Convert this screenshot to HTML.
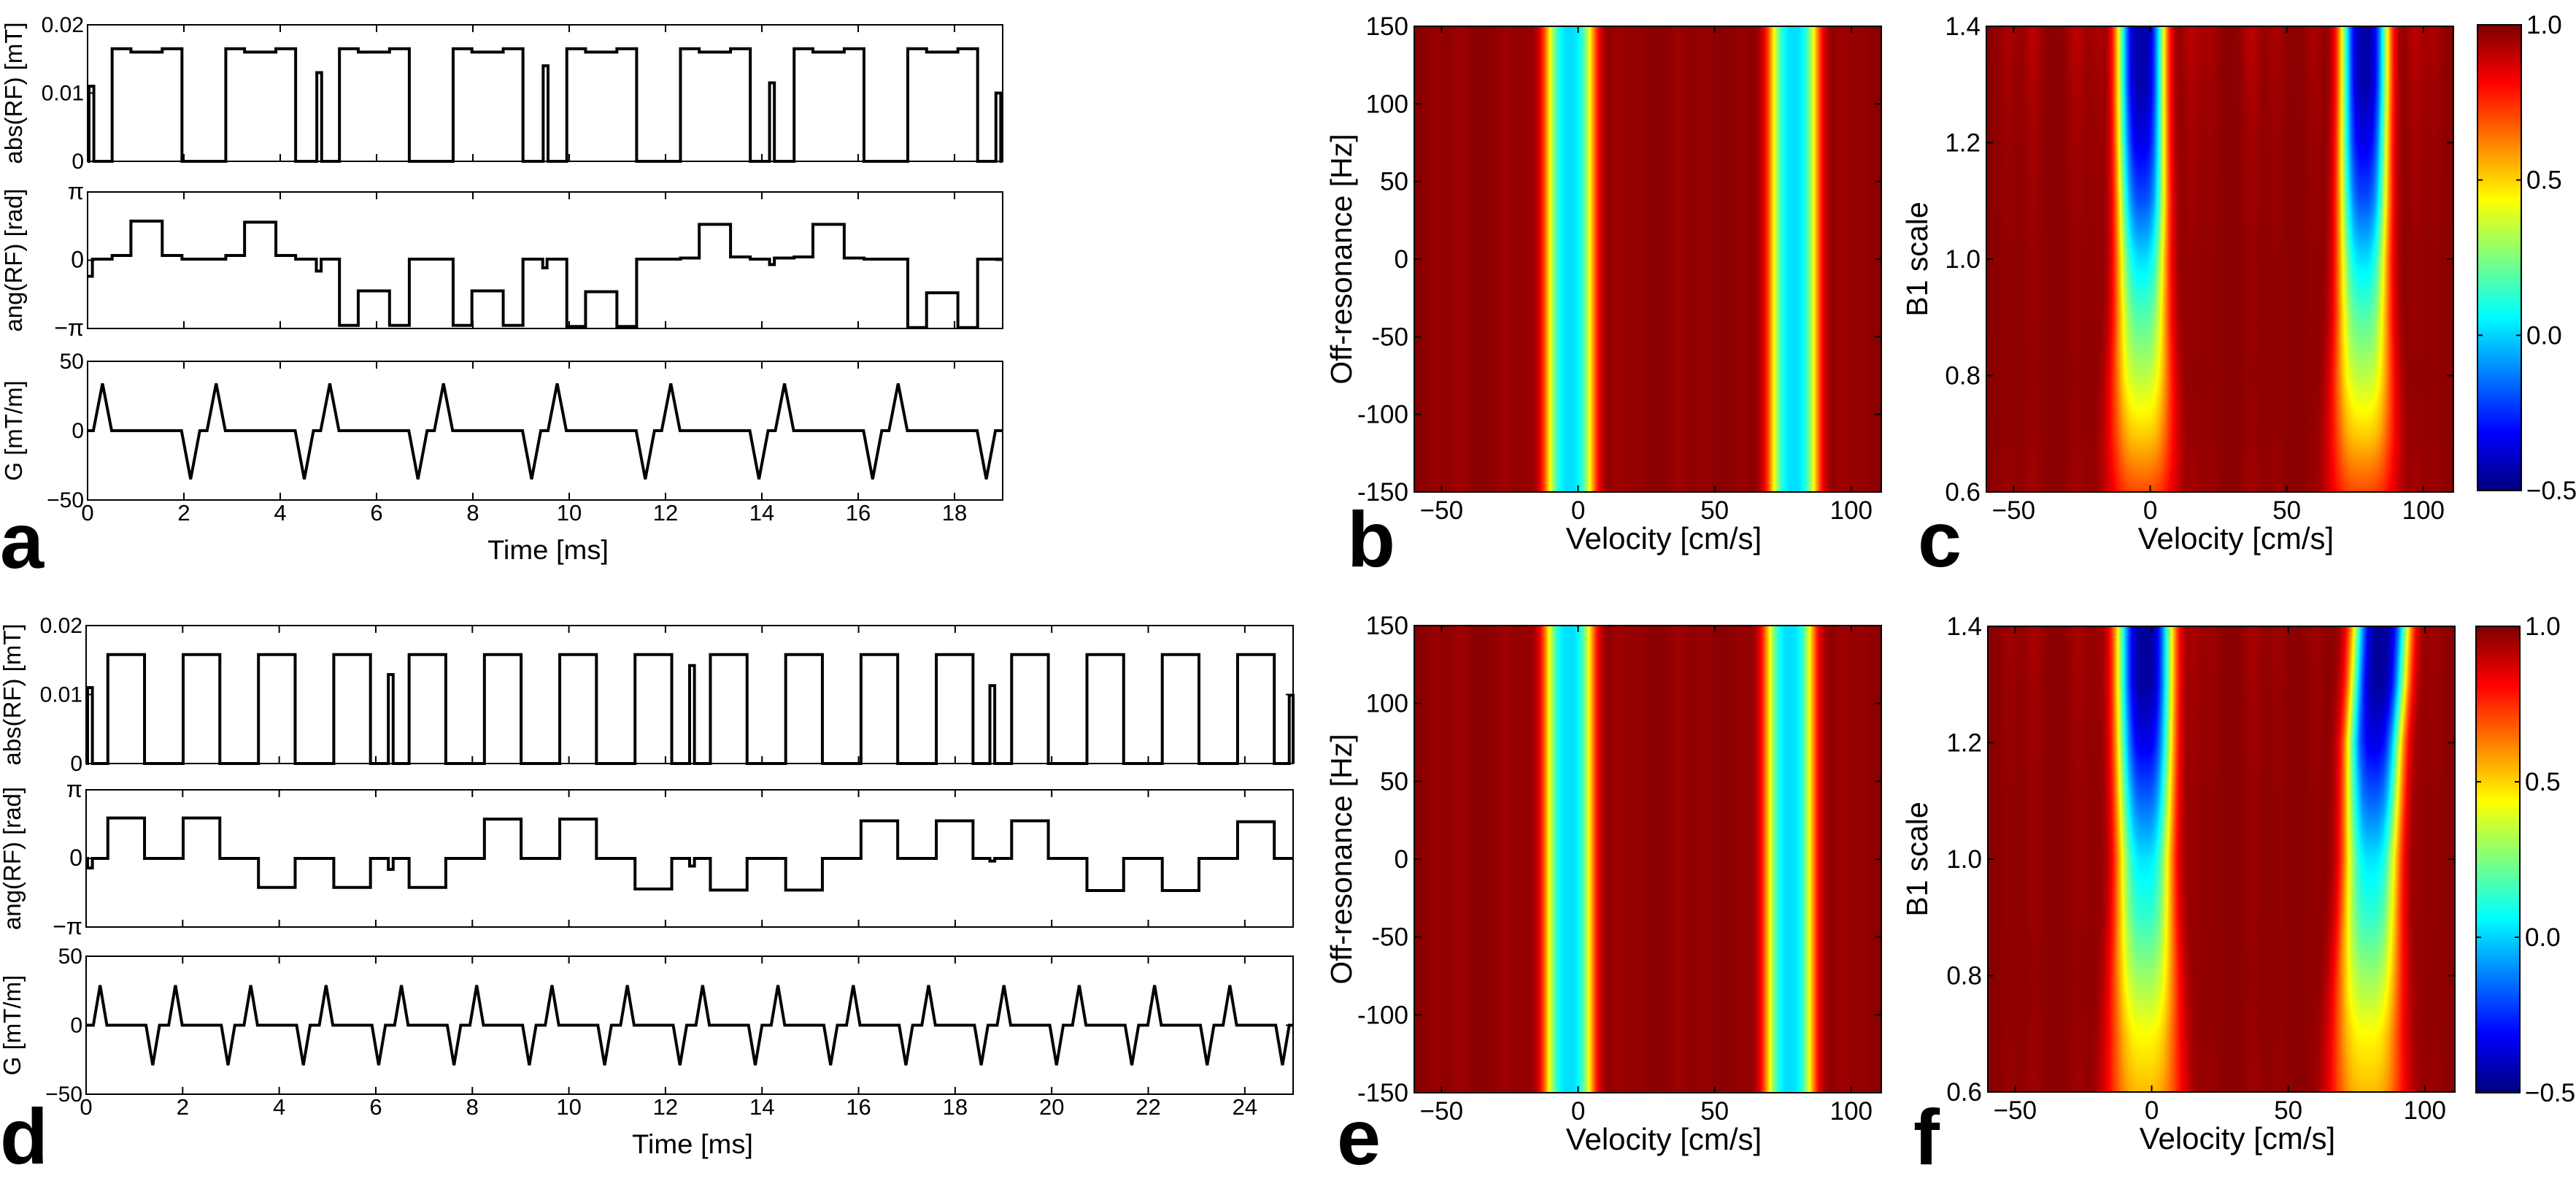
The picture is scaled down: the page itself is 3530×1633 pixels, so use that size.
<!DOCTYPE html>
<html><head><meta charset="utf-8">
<style>
html,body{margin:0;padding:0;background:#fff;}
#fig{position:relative;width:3530px;height:1633px;overflow:hidden;background:#fff;}
canvas{position:absolute;}
svg{position:absolute;left:0;top:0;}
text{font-family:"Liberation Sans",Arial,sans-serif;fill:#000;}
</style></head>
<body>
<div id="fig">
<canvas id="cvB" width="640" height="638" style="left:1938px;top:36px;width:640px;height:638px"></canvas>
<canvas id="cvC" width="640" height="638" style="left:2722px;top:36px;width:640px;height:638px"></canvas>
<canvas id="cvCB1" width="60" height="638" style="left:3395px;top:34px;width:60px;height:638px"></canvas>
<canvas id="cvE" width="640" height="640" style="left:1938px;top:857px;width:640px;height:640px"></canvas>
<canvas id="cvF" width="640" height="638" style="left:2724px;top:858px;width:640px;height:638px"></canvas>
<canvas id="cvCB2" width="60" height="639" style="left:3393px;top:858px;width:60px;height:639px"></canvas>
<svg id="svg" width="3530" height="1633" viewBox="0 0 3530 1633"></svg>
</div>
<script>
// ---------------- data ----------------
const timeTicksA = [0,2,4,6,8,10,12,14,16,18];
const timeTicksD = [0,2,4,6,8,10,12,14,16,18,20,22,24];
const absTicks = [0, 0.01, 0.02];
const absTickLabels = ["0","0.01","0.02"];
const angTicks = [-Math.PI, 0, Math.PI];
const angTickLabels = ["\u2212\u03c0","0","\u03c0"];
const gTicks = [-50, 0, 50];
const gTickLabels = ["\u221250","0","50"];

// panel a: RF magnitude pulses
const absA_pulseStart = [0.51,2.87,5.23,7.59,9.95,12.31,14.67,17.03];
const absA_pulseDur = [1.45,1.45,1.45,1.45,1.45,1.45,1.45,1.45];
const absA_edgeLevel = [0.0165,0.0165,0.0165,0.0165,0.0165,0.0165,0.0165,0.0165];
const absA_midLevel = [0.016,0.016,0.016,0.016,0.016,0.016,0.016,0.016];
const absA_spikeT = [0.03,4.76,9.46,14.16,18.86];
const absA_spikeV = [0.011,0.013,0.014,0.0115,0.010];
// panel a: RF phase (breakpoints + levels)
const phaseA_t = [0,0.1,0.51,0.9,1.55,1.96,2.87,3.26,3.91,4.32,4.75,4.85,5.23,5.62,6.27,6.68,7.59,7.98,8.63,9.04,9.45,9.54,9.95,10.34,10.99,11.4,12.31,12.7,13.35,13.76,14.16,14.26,14.67,15.06,15.71,16.12,17.03,17.42,18.07,18.48,19];
const phaseA_v = [-0.74,0.05,0.22,1.8,0.22,0.05,0.22,1.75,0.22,0.05,-0.5,0.05,-3.0,-1.41,-3.0,0.05,-3.0,-1.41,-3.0,0.05,-0.35,0.05,-3.05,-1.45,-3.05,0.05,0.1,1.65,0.15,0.05,-0.2,0.1,0.15,1.65,0.1,0.05,-3.1,-1.5,-3.1,0.05];
// panel a: gradient triangle peaks
const gA_peakT = [0.31,2.14,2.67,4.50,5.03,6.86,7.39,9.22,9.75,11.58,12.11,13.94,14.47,16.30,16.83,18.66];
const gA_peakV = [34,-35,34,-35,34,-35,34,-35,34,-35,34,-35,34,-35,34,-35];

// panel d
const absD_pulseStart = [0.45,2.01,3.57,5.13,6.69,8.25,9.81,11.37,12.93,14.49,16.05,17.61,19.17,20.73,22.29,23.85];
const absD_pulseV = [0.0158,0.0158,0.0158,0.0158,0.0158,0.0158,0.0158,0.0158,0.0158,0.0158,0.0158,0.0158,0.0158,0.0158,0.0158,0.0158];
const absD_spikeT = [0.03,6.26,12.5,18.72,24.92];
const absD_spikeV = [0.011,0.0129,0.0142,0.0113,0.0099];
const phaseD_level = [1.85,1.85,-1.33,-1.33,-1.33,1.8,1.8,-1.4,-1.45,-1.45,1.72,1.72,1.72,-1.47,-1.47,1.68];
const phaseD_dipV = [-0.44,-0.5,-0.35,-0.12,0];
const gD_posT = [0.29,1.85,3.41,4.97,6.53,8.09,9.65,11.21,12.77,14.33,15.89,17.45,19.01,20.57,22.13,23.69];
const gD_negT = [1.38,2.94,4.50,6.06,7.62,9.18,10.74,12.30,13.86,15.42,16.98,18.54,20.10,21.66,23.22,24.78];
const gD_posV = [29,29,29,29,29,29,29,29,29,29,29,29,29,29,29,29];
const gD_negV = [-29,-29,-29,-29,-29,-29,-29,-29,-29,-29,-29,-29,-29,-29,-29,-29];

// heatmaps
const velTicks = [-50,0,50,100];
const offresTicks = [-150,-100,-50,0,50,100,150];
const b1Ticks = [0.6,0.8,1.0,1.2,1.4];
const b1TickLabels = ["0.6","0.8","1.0","1.2","1.4"];
const cbTicks = [-0.5,0,0.5,1.0];
const cbTickLabels = ["\u22120.5","0.0","0.5","1.0"];
const bandCentersB = [-3,79];
const bandMinB = [0.03,0.03];
const bandWidthB = [8.8,8.8];
const bandCentersE = [-3.3,77.5];
const bandMinE = [0.03,0.03];
const bandWidthE = [8.8,8.8];
const rippleCenters = [-52,-43,-27,-19,15,22,37,46,60,97,104];
const rippleDepth = [0.02,0.03,0.03,0.02,0.03,0.02,0.03,0.02,0.02,0.03,0.02];
const b1Rows = [0.6,0.7,0.8,0.9,1.0,1.1,1.2,1.3,1.4];
const bandMinC = [0.72,0.52,0.35,0.2,0.03,-0.18,-0.33,-0.42,-0.43];
const bandWidthC = [12.5,11.5,10.5,9.5,9,8.8,8.6,8.5,8.5];
const bandCenterC1 = [-3,-3,-3,-3,-3,-3,-3.2,-3.3,-3.3];
const bandCenterC2 = [77.7,78,78,78,78,78.2,78.3,78.5,78.5];
const rippleAmpC = [0.05,0.03,0.02,0.03,0.03,0.04,0.05,0.07,0.1];
const bandMinF = [0.55,0.45,0.3,0.15,0.04,-0.15,-0.33,-0.44,-0.45];
const bandWidthF = [13.5,12.5,11.5,10.5,10,10,10,10,10];
const bandCenterF1 = [-2.5,-2.5,-2.5,-2.5,-2.5,-2.5,-2.5,-2.5,-2.5];
const bandCenterF2 = [79,79,79.5,80,80.5,81,81.5,83,84];
const rippleAmpF = [0.04,0.03,0.02,0.03,0.03,0.03,0.04,0.05,0.06];

// ---------------- helpers ----------------
const NS = "http://www.w3.org/2000/svg";
const svg = document.getElementById("svg");
function mk(tag, parent){ const e=document.createElementNS(NS,tag); (parent||svg).appendChild(e); return e; }
function txt(parent, x, y, s, size, anchor, extra){
  const t = mk("text", parent);
  t.setAttribute("x", x); t.setAttribute("y", y);
  t.setAttribute("font-size", size);
  t.setAttribute("text-anchor", anchor||"middle");
  if (extra) for (const k in extra) t.setAttribute(k, extra[k]);
  t.textContent = s;
  return t;
}
function lin(d0,d1,r0,r1){ return v => r0 + (v-d0)/(d1-d0)*(r1-r0); }

function axesBox(g, x0,y0,x1,y1, xs, xticks, ys, yticks, tl){
  const r = mk("rect", g);
  r.setAttribute("x",x0); r.setAttribute("y",y0); r.setAttribute("width",x1-x0); r.setAttribute("height",y1-y0);
  r.setAttribute("fill","none"); r.setAttribute("stroke","#000"); r.setAttribute("stroke-width","2");
  
  
  let d="";
  xticks.forEach(v=>{ const x=xs(v); d+=`M${x} ${y1}V${y1-tl}M${x} ${y0}V${y0+tl}`; });
  yticks.forEach(v=>{ const y=ys(v); d+=`M${x0} ${y}H${x0+tl}M${x1} ${y}H${x1-tl}`; });
  const p = mk("path", g); p.setAttribute("d", d); p.setAttribute("stroke","#000"); p.setAttribute("stroke-width","2"); p.setAttribute("fill","none");
  
  
}

function stepPath(segs, tmax, xs, ys){
  segs.sort((a,b)=>a[0]-b[0]);
  let d = `M${xs(0)} ${ys(0)}`; let t=0;
  segs.forEach(s=>{
    if (s[0]>t+1e-6){ d+=`V${ys(0)}H${xs(s[0])}`; }
    d+=`V${ys(s[2])}H${xs(s[1])}`;
    t=s[1];
  });
  d+=`V${ys(0)}`;
  if (t<tmax) d+=`H${xs(tmax)}`;
  return d;
}

function drawWave(name, x0, x1, tmax, rows, timeTicks, absSegs, phaseT, phaseV, gT, gV, gHalf, labelX){
  const g = mk("g"); 
  
  const xs = lin(0,tmax,x0,x1);
  const r0 = rows[0], r1=rows[1], r2=rows[2];
  const ysA = lin(0,0.02,r0[1],r0[0]);
  const ysP = lin(-Math.PI,Math.PI,r1[1],r1[0]);
  const ysG = lin(-50,50,r2[1],r2[0]);
  let p = mk("path", g);
  p.setAttribute("d", stepPath(absSegs, tmax, xs, ysA));
  p.setAttribute("fill","none"); p.setAttribute("stroke","#000"); p.setAttribute("stroke-width","4"); p.setAttribute("stroke-linejoin","miter");
  
  
  let d = `M${xs(phaseT[0])} ${ysP(phaseV[0])}`;
  for (let i=0;i<phaseV.length;i++){
    if (i>0) d+=`V${ysP(phaseV[i])}`;
    d+=`H${xs(phaseT[i+1])}`;
  }
  p = mk("path", g);
  p.setAttribute("d", d);
  p.setAttribute("fill","none"); p.setAttribute("stroke","#000"); p.setAttribute("stroke-width","4");
  
  
  d = `M${xs(0)} ${ysG(0)}`;
  gT.forEach((t,i)=>{
    d+=`L${xs(Math.max(0,t-gHalf))} ${ysG(0)}L${xs(t)} ${ysG(gV[i])}L${xs(Math.min(tmax,t+gHalf))} ${ysG(t+gHalf>tmax? gV[i]*(t+gHalf-tmax)/gHalf:0)}`;
  });
  d+=`L${xs(tmax)} ${ysG(0)}`;
  p = mk("path", g);
  p.setAttribute("d", d);
  p.setAttribute("fill","none"); p.setAttribute("stroke","#000"); p.setAttribute("stroke-width","4"); p.setAttribute("stroke-linejoin","miter");
  
  

  axesBox(g, x0,r0[0],x1,r0[1], xs, timeTicks, ysA, absTicks, 10);
  axesBox(g, x0,r1[0],x1,r1[1], xs, timeTicks, ysP, angTicks, 10);
  axesBox(g, x0,r2[0],x1,r2[1], xs, timeTicks, ysG, gTicks, 10);

  absTicks.forEach((v,i)=>{ const t=txt(g, x0-5, ysA(v)+10, absTickLabels[i], 30, "end");
    
     });
  angTicks.forEach((v,i)=>{ const t=txt(g, x0-5, ysP(v)+10, angTickLabels[i], 32, "end", i===1?{}:{"font-family":"Liberation Serif, serif"});
    
     });
  gTicks.forEach((v,i)=>{ const t=txt(g, x0-5, ysG(v)+10, gTickLabels[i], 30, "end");
    
     });
  timeTicks.forEach(v=>{ const t=txt(g, xs(v), r2[1]+28, String(v), 31, "middle");
    
     });
  const titles = ["abs(RF) [mT]","ang(RF) [rad]","G [mT/m]"];
  rows.forEach((r,i)=>{
    const cy=(r[0]+r[1])/2;
    const t=txt(g, 0, 0, titles[i], 33, "middle", {transform:`translate(${labelX},${cy}) rotate(-90)`});
    
    
  });
  const tt = txt(g, (x0+x1)/2+4, r2[1]+81, "Time [ms]", 37, "middle", {textLength:166, lengthAdjust:"spacingAndGlyphs"});
  
  
}

const segsA = [];
absA_pulseStart.forEach((s,i)=>{
  segsA.push([s, s+0.39, absA_edgeLevel[i]]);
  segsA.push([s+0.39, s+1.04, absA_midLevel[i]]);
  segsA.push([s+1.04, s+absA_pulseDur[i], absA_edgeLevel[i]]);
});
absA_spikeT.forEach((t,i)=>segsA.push([t, Math.min(19,t+0.1), absA_spikeV[i]]));
drawWave("panel-a", 120, 1374, 19, [[34,221],[263,450],[495,685]], timeTicksA, segsA, phaseA_t, phaseA_v, gA_peakT, gA_peakV, 0.19, 30);

const segsD = [];
absD_pulseStart.forEach((s,i)=>segsD.push([s, s+0.76, absD_pulseV[i]]));
absD_spikeT.forEach((t,i)=>segsD.push([t, Math.min(25,t+0.1), absD_spikeV[i]]));
const evD = [];
absD_pulseStart.forEach((s,i)=>evD.push([s, s+0.76, phaseD_level[i]]));
absD_spikeT.forEach((t,i)=>evD.push([t, Math.min(25,t+0.1), phaseD_dipV[i]]));
evD.sort((a,b)=>a[0]-b[0]);
const phaseD_t=[0], phaseD_v=[];
let cur=0;
evD.forEach(e=>{
  if (e[0]>cur+1e-6){ phaseD_v.push(0); phaseD_t.push(e[0]); }
  phaseD_v.push(e[2]); phaseD_t.push(e[1]); cur=e[1];
});
if (cur<25){ phaseD_v.push(0); phaseD_t.push(25); }
const gD_t=[], gD_v=[];
gD_posT.forEach((t,i)=>{ gD_t.push(t); gD_v.push(gD_posV[i]); gD_t.push(gD_negT[i]); gD_v.push(gD_negV[i]); });
drawWave("panel-d", 118, 1772, 25, [[857,1046],[1082,1270],[1310,1499]], timeTicksD, segsD, phaseD_t, phaseD_v, gD_t, gD_v, 0.14, 28);

// ---------------- heatmaps ----------------
function jet(v){
  let t = (v+0.5)/1.5; t=Math.max(0,Math.min(1,t));
  const c = x=>Math.max(0,Math.min(1,x));
  return [c(1.5-Math.abs(4*t-3))*255, c(1.5-Math.abs(4*t-2))*255, c(1.5-Math.abs(4*t-1))*255];
}
function interpRow(arr, b){
  if (b<=b1Rows[0]) return arr[0];
  for (let i=0;i<b1Rows.length-1;i++){
    if (b<=b1Rows[i+1]){ const f=(b-b1Rows[i])/(b1Rows[i+1]-b1Rows[i]); return arr[i]+(arr[i+1]-arr[i])*f; }
  }
  return arr[arr.length-1];
}
function bandVal(v, c, mn, w){ const d=Math.abs(v-c)/w; return 1-(1-mn)*Math.exp(-d*d*d); }
function ripple(v, amp){
  let r=0; rippleCenters.forEach((c,i)=>{ const d=(v-c)/3.5; r+=rippleDepth[i]*amp*Math.exp(-d*d); }); return r;
}
function paint(id, valueFn){
  const cv=document.getElementById(id), ctx=cv.getContext("2d");
  const W=cv.width, H=cv.height, img=ctx.createImageData(W,H);
  for (let y=0;y<H;y++){
    const fy = 1 - (y+0.5)/H;
    for (let x=0;x<W;x++){
      const v = -60 + (x+0.5)/W*171;
      const c = jet(valueFn(v, fy));
      const k=(y*W+x)*4; img.data[k]=c[0]; img.data[k+1]=c[1]; img.data[k+2]=c[2]; img.data[k+3]=255;
    }
  }
  ctx.putImageData(img,0,0);
}
function offresFn(centers, mins, widths){
  return (v,fy)=>{
    let val = 0.985 - ripple(v, 1.0);
    centers.forEach((c,i)=>{ val = Math.min(val, bandVal(v, c, mins[i], widths[i]) - 0.015); });
    return val;
  };
}
function b1Fn(c1, c2, mins, widths, ramp){
  return (v,fy)=>{
    const b = 0.6 + fy*0.8;
    const mn = interpRow(mins,b), w=interpRow(widths,b);
    let val = 0.985 - ripple(v, interpRow(ramp,b)/0.04);
    val = Math.min(val, bandVal(v, interpRow(c1,b), mn, w)-0.015);
    val = Math.min(val, bandVal(v, interpRow(c2,b), mn, w)-0.015);
    return val;
  };
}
paint("cvB", offresFn(bandCentersB, bandMinB, bandWidthB));
paint("cvE", offresFn(bandCentersE, bandMinE, bandWidthE));
paint("cvC", b1Fn(bandCenterC1, bandCenterC2, bandMinC, bandWidthC, rippleAmpC));
paint("cvF", b1Fn(bandCenterF1, bandCenterF2, bandMinF, bandWidthF, rippleAmpF));
["cvCB1","cvCB2"].forEach(id=>{
  const cv=document.getElementById(id), ctx=cv.getContext("2d");
  for (let y=0;y<cv.height;y++){ const v = 1.0 - (y+0.5)/cv.height*1.5; const c=jet(v); ctx.fillStyle=`rgb(${c[0]|0},${c[1]|0},${c[2]|0})`; ctx.fillRect(0,y,cv.width,1); }
});

function heatAxes(name, x0,y0,x1,y1, yTicks, yLabels, yMin, yMax, yTitle, titleX, letter, letterX, letterY){
  const g = mk("g"); 
  
  const xs=lin(-60,111,x0,x1), ys=lin(yMin,yMax,y1,y0);
  axesBox(g,x0,y0,x1,y1,xs,velTicks,ys,yTicks,9);
  velTicks.forEach(v=>{ const t=txt(g, xs(v), y1+37, v<0?"\u2212"+Math.abs(v):String(v), 35, "middle");
    
     });
  yTicks.forEach((v,i)=>{ const t=txt(g, x0-8, ys(v)+12, yLabels[i], 35, "end");
    
     });
  const xt = txt(g, (x0+x1)/2+22, y1+78, "Velocity [cm/s]", 42, "middle");
  
  
  const yt = txt(g, 0,0, yTitle, 41, "middle", {transform:`translate(${titleX},${(y0+y1)/2}) rotate(-90)`});
  
  
  const lt = txt(g, letterX, letterY, letter, 108, "start", {"font-weight":"bold"});
  
  
}
const offLabels = offresTicks.map(v=>String(v));
heatAxes("panel-b",1938,36,2578,674,offresTicks,offLabels,-150,150,"Off-resonance [Hz]",1852,"b",1846,776);
heatAxes("panel-c",2722,36,3362,674,b1Ticks,b1TickLabels,0.6,1.4,"B1 scale",2641,"c",2628,776);
heatAxes("panel-e",1938,857,2578,1497,offresTicks,offLabels,-150,150,"Off-resonance [Hz]",1852,"e",1832,1595);
heatAxes("panel-f",2724,858,3364,1496,b1Ticks,b1TickLabels,0.6,1.4,"B1 scale",2641,"f",2622,1595);

function colorbar(name,x0,y0,x1,y1){
  const g=mk("g"); 
  
  const ys=lin(-0.5,1.0,y1,y0);
  const r=mk("rect",g); r.setAttribute("x",x0); r.setAttribute("y",y0); r.setAttribute("width",x1-x0); r.setAttribute("height",y1-y0);
  r.setAttribute("fill","none"); r.setAttribute("stroke","#000"); r.setAttribute("stroke-width","2");
  
  
  cbTicks.forEach((v,i)=>{
    const y=ys(v);
    const l=mk("path",g); l.setAttribute("d",`M${x0} ${y}H${x0+7}M${x1} ${y}H${x1-7}`); l.setAttribute("stroke","#000"); l.setAttribute("stroke-width","2");
    
    
    const t=txt(g, x1+7, y+12, cbTickLabels[i], 35, "start");
    
    
  });
}
colorbar("colorbar-top",3395,34,3455,672);
colorbar("colorbar-bottom",3393,858,3453,1497);

const la = txt(svg, 0, 778, "a", 108, "start", {"font-weight":"bold"});


const ld = txt(svg, 0, 1594, "d", 108, "start", {"font-weight":"bold"});


</script>
</body></html>
